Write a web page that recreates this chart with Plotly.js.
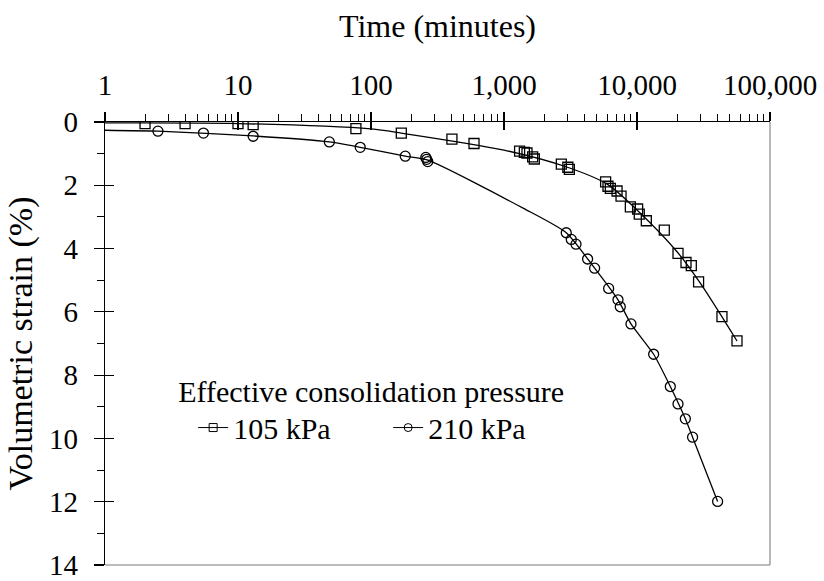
<!DOCTYPE html>
<html>
<head>
<meta charset="utf-8">
<script src="https://cdn.plot.ly/plotly-3.0.1.min.js"></script>
<style>
  html, body { margin: 0; padding: 0; background: #fff; }
  #chart { width: 824px; height: 581px; }
</style>
</head>
<body>
<div id="chart"></div>
<script>
// Measured readings, 105 kPa effective consolidation pressure
const time105 = [2.0, 4.0, 10, 13, 77, 169, 406, 595, 1310, 1422, 1489, 1642, 1690, 2698, 3020, 3100,
                 5807, 6053, 6305, 7079, 7585, 8913, 10110, 10400, 11750, 16040, 20340, 23360, 25600,
                 29040, 43540, 56490];
const strain105 = [0.05, 0.05, 0.05, 0.08, 0.21, 0.35, 0.54, 0.68, 0.92, 0.96, 0.98, 1.10, 1.17, 1.33, 1.43, 1.50,
                   1.89, 2.03, 2.10, 2.18, 2.34, 2.68, 2.75, 2.91, 3.12, 3.42, 4.15, 4.44, 4.54,
                   5.05, 6.15, 6.92];

// Measured readings, 210 kPa effective consolidation pressure
const time210 = [2.5, 5.5, 13, 48.6, 83, 181, 258, 262, 267, 2938, 3206, 3477, 4252, 4800, 6120,
                 7195, 7487, 9010, 13340, 17800, 20340, 23090, 26180, 40370];
const strain210 = [0.29, 0.35, 0.45, 0.63, 0.80, 1.08, 1.12, 1.18, 1.25, 3.50, 3.71, 3.86, 4.33, 4.62, 5.26,
                   5.62, 5.84, 6.38, 7.34, 8.36, 8.91, 9.38, 9.96, 11.99];

// Trend curves drawn through each data set
const curveTime105 = [1, 10, 100, 169, 1000, 3000, 6000, 10000, 20000, 30000, 56490];
const curveStrain105 = [0.03, 0.05, 0.22, 0.35, 0.89, 1.43, 1.97, 2.78, 4.10, 5.10, 6.92];
const curveTime210 = [1, 2.5, 13, 48.6, 83, 181, 265, 1403, 2938, 4800, 7195, 9010, 13340, 17800, 23090, 26180, 40370];
const curveStrain210 = [0.26, 0.29, 0.44, 0.63, 0.80, 1.08, 1.20, 2.73, 3.50, 4.62, 5.62, 6.38, 7.34, 8.36, 9.38, 9.96, 11.99];

const seriesNames = ['105 kPa', '210 kPa'];
const legendTitle = 'Effective consolidation pressure';
const xTitle = 'Time (minutes)';
const yTitle = 'Volumetric strain (%)';

const FONT = 'Liberation Serif, Times New Roman, Times, serif';
const INK = '#000000';

const curveLine = { color: INK, width: 1.3 };

const traces = [
  { x: curveTime105, y: curveStrain105, mode: 'lines', line: Object.assign({ shape: 'spline', smoothing: 0.8 }, curveLine),
    showlegend: false, hoverinfo: 'skip' },
  { x: curveTime210, y: curveStrain210, mode: 'lines', line: Object.assign({ shape: 'spline', smoothing: 0.6 }, curveLine),
    showlegend: false, hoverinfo: 'skip' },
  { x: time105, y: strain105, mode: 'markers', showlegend: false,
    marker: { symbol: 'square-open', size: 10, color: INK, line: { width: 1.3, color: INK } } },
  { x: time210, y: strain210, mode: 'markers', showlegend: false,
    marker: { symbol: 'circle-open', size: 10, color: INK, line: { width: 1.3, color: INK } } },
  // legend entries
  { x: [null], y: [null], xaxis: 'x2', yaxis: 'y2', name: seriesNames[0], mode: 'lines+markers',
    line: { color: INK, width: 1 }, marker: { symbol: 'square-open', size: 8, color: INK, line: { width: 1, color: INK } } },
  { x: [null], y: [null], xaxis: 'x2', yaxis: 'y2', name: seriesNames[1], mode: 'lines+markers',
    line: { color: INK, width: 1 }, marker: { symbol: 'circle-open', size: 8, color: INK, line: { width: 1, color: INK } } }
];

const layout = {
  width: 824,
  height: 581,
  margin: { l: 105, r: 54, t: 122, b: 16 },
  paper_bgcolor: '#ffffff',
  plot_bgcolor: '#ffffff',
  font: { family: FONT, color: INK, size: 29 },
  showlegend: true,
  xaxis: {
    type: 'log',
    range: [0, 5],
    side: 'top',
    title: { text: xTitle, font: { family: FONT, size: 32, color: INK }, standoff: 22 },
    tickmode: 'linear', tick0: 0, dtick: 1,
    tickformat: ',',
    ticks: 'outside', ticklen: 9, tickwidth: 1.2, tickcolor: INK,
    ticklabelstandoff: 5,
    ticklabeloverflow: 'allow',
    tickfont: { family: FONT, size: 29, color: INK },
    minor: { dtick: 'D1', ticks: 'outside', ticklen: 7, tickwidth: 1, tickcolor: INK },
    showline: true, linecolor: INK, linewidth: 1.3,
    showgrid: false, zeroline: false, fixedrange: true
  },
  xaxis2: {
    type: 'log', overlaying: 'x', matches: 'x', side: 'top', anchor: 'y2',
    range: [0, 5], tickmode: 'linear', tick0: 0, dtick: 1,
    ticks: 'inside', ticklen: 8, tickwidth: 1.2, tickcolor: INK,
    showticklabels: false, showline: false, showgrid: false, zeroline: false
  },
  yaxis: {
    range: [14, 0],
    title: { text: yTitle, font: { family: FONT, size: 34, color: INK }, standoff: 6 },
    tickmode: 'linear', tick0: 0, dtick: 2,
    ticks: 'outside', ticklen: 10, tickwidth: 1.2, tickcolor: INK,
    ticklabelstandoff: 10,
    ticklabeloverflow: 'allow',
    tickfont: { family: FONT, size: 29, color: INK },
    minor: { dtick: 1, ticks: 'outside', ticklen: 7, tickwidth: 1, tickcolor: INK },
    showline: true, linecolor: INK, linewidth: 1.3,
    showgrid: false, zeroline: false, fixedrange: true
  },
  yaxis2: {
    overlaying: 'y', matches: 'y', side: 'left', anchor: 'x2',
    range: [14, 0], tickmode: 'linear', tick0: 0, dtick: 2,
    ticks: 'inside', ticklen: 9, tickwidth: 1.2, tickcolor: INK,
    showticklabels: false, showline: false, showgrid: false, zeroline: false
  },
  legend: {
    title: { text: legendTitle, side: 'top', font: { family: FONT, size: 30, color: INK } },
    orientation: 'h',
    x: 0.107, xanchor: 'left',
    y: 0.457, yanchor: 'top',
    bgcolor: 'rgba(0,0,0,0)',
    borderwidth: 0,
    font: { family: FONT, size: 30, color: INK },
    indentation: 17,
    entrywidth: 133,
    itemwidth: 30,
    tracegroupgap: 0
  },
  shapes: [
    // right and bottom frame edges
    { type: 'line', xref: 'paper', yref: 'paper', x0: 1, x1: 1, y0: 0, y1: 1, line: { color: '#a6a6a6', width: 1.6 } },
    { type: 'line', xref: 'paper', yref: 'paper', x0: 0, x1: 1, y0: 0, y1: 0, line: { color: '#a6a6a6', width: 1.6 } }
  ]
};

Plotly.newPlot('chart', traces, layout, { displayModeBar: false, staticPlot: true });
</script>
</body>
</html>
